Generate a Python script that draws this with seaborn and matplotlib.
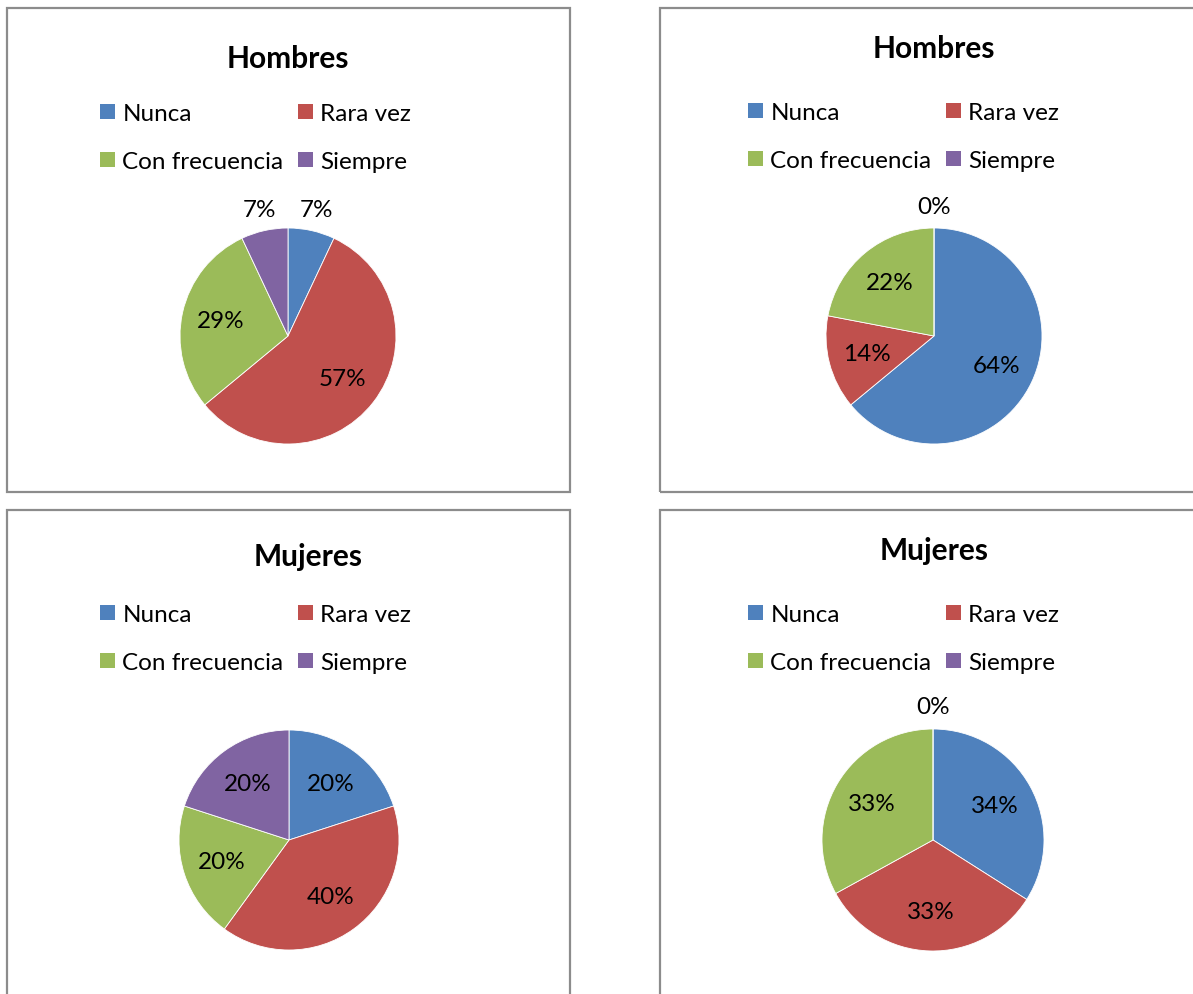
import numpy as np
import pandas as pd
import seaborn as sns
import matplotlib.pyplot as plt
from matplotlib.patches import Rectangle, Patch

categorias = ["Nunca", "Rara vez", "Con frecuencia", "Siempre"]
colores = ["#4F81BD", "#C0504D", "#9BBB59", "#8064A2"]

# porcentajes (orden: Nunca, Rara vez, Con frecuencia, Siempre)
hombres_izq = [7, 57, 29, 7]
hombres_der = [64, 14, 22, 0]
mujeres_izq = [20, 40, 20, 20]
mujeres_der = [34, 33, 33, 0]

sns.set_theme(style="white")
plt.rcParams["font.family"] = ["Lato", "DejaVu Sans"]
plt.rcParams["text.color"] = "black"

W, H = 1193, 995
fig = plt.figure(figsize=(W / 100, H / 100), dpi=100)
fig.patch.set_facecolor("white")


def fx(x):
    return x / W


def fy(y):
    return 1 - y / H


paneles = [
    dict(titulo="Hombres", valores=hombres_izq, caja=(7, 9, 570, 493),
         centro=(288, 337), r=108, pos_titulo=(288, 59), pos_leyenda=(100, 104)),
    dict(titulo="Hombres", valores=hombres_der, caja=(660, 9, 1210, 493),
         centro=(934, 337), r=108, pos_titulo=(934, 49), pos_leyenda=(748, 103)),
    dict(titulo="Mujeres", valores=mujeres_izq, caja=(7, 511, 570, 1010),
         centro=(289, 841), r=110, pos_titulo=(308, 557), pos_leyenda=(100, 605)),
    dict(titulo="Mujeres", valores=mujeres_der, caja=(660, 511, 1210, 1010),
         centro=(933, 841), r=111, pos_titulo=(934, 551), pos_leyenda=(748, 605)),
]

orden = [0, 2, 1, 3]  # para que la leyenda se lea por filas

for p in paneles:
    x0, y0, x1, y1 = p["caja"]
    fig.patches.append(Rectangle((fx(x0), fy(y1)), (x1 - x0) / W, (y1 - y0) / H,
                                 transform=fig.transFigure, fill=False,
                                 edgecolor="#8c8c8c", linewidth=1.6))

    cx, cy = p["centro"]
    r = p["r"]
    m = 1.4
    ax = fig.add_axes([fx(cx - m * r), fy(cy + m * r), 2 * m * r / W, 2 * m * r / H])
    wedges, _ = ax.pie(p["valores"], colors=colores, startangle=90, counterclock=False,
                       radius=1, wedgeprops=dict(edgecolor="white", linewidth=0.6))
    ax.set_xlim(-m, m)
    ax.set_ylim(-m, m)
    ax.axis("off")

    for w, v in zip(wedges, p["valores"]):
        ang = np.deg2rad((w.theta1 + w.theta2) / 2)
        d = 1.2 if v < 10 else 0.64
        ax.text(d * np.cos(ang), d * np.sin(ang), f"{v}%", ha="center", va="center",
                fontsize=17.5, color="black")

    fig.text(fx(p["pos_titulo"][0]), fy(p["pos_titulo"][1]), p["titulo"],
             ha="center", va="center", fontsize=21.5, fontweight="bold", color="black")

    handles = [Patch(facecolor=colores[i], edgecolor="none") for i in orden]
    labels = [categorias[i] for i in orden]
    lx, ly = p["pos_leyenda"]
    leg = fig.legend(handles, labels, loc="upper left", bbox_to_anchor=(fx(lx), fy(ly)),
                     ncol=2, frameon=False, fontsize=17.5, handlelength=0.62,
                     handleheight=0.62, handletextpad=0.3, columnspacing=0.6,
                     labelspacing=1.11, borderpad=0, borderaxespad=0)
    for t in leg.get_texts():
        t.set_color("black")

fig.savefig("out.png", dpi=100)
